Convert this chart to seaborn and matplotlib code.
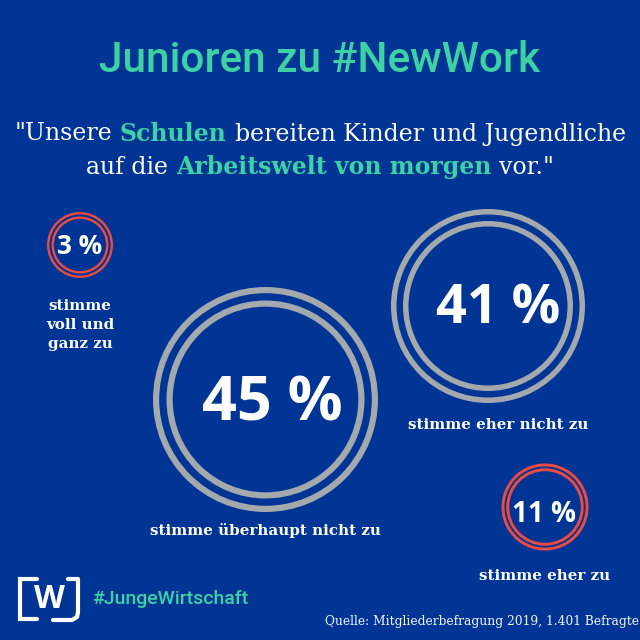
import matplotlib
matplotlib.use("Agg")
import matplotlib.pyplot as plt
import seaborn as sns
import pandas as pd

# Werte aus der Grafik
antworten = ["stimme\nvoll und\nganz zu", "stimme eher nicht zu", "stimme überhaupt nicht zu", "stimme eher zu"]
prozent = [3, 41, 45, 11]
titel = "Junioren zu #NewWork"
quelle = "Quelle: Mitgliederbefragung 2019, 1.401 Befragte"
hashtag = "#JungeWirtschaft"

# Layout in Pixeln
pos_x = [80, 488, 265.5, 545]
pos_y = [245, 306, 399.5, 507]
radius = [33, 97, 112.5, 43.5]
ring_lw = [2.4, 5.5, 6.2, 2.9]
ring_gap = [4.5, 12, 13.5, 4.8]
ring_farbe = ["#EE4A3F", "#A3A9AD", "#A3A9AD", "#EE4A3F"]
font_groesse = [18.8, 39, 44, 20]
text_x = [80, 498.5, 272.5, 544.5]
text_y = [247, 310, 405, 514]
label_x = [80, 498.5, 265.5, 544.5]
label_y = [325, 425, 530, 576]

BLAU = "#003595"
GRUEN = "#3DD1A3"
SERIF = "DejaVu Serif"
SANS = "Open Sans"
PX = 0.72  # Pixel nach Punkt bei dpi=100

sns.set_theme(style="white")
df = pd.DataFrame({"antwort": antworten, "prozent": prozent, "x": pos_x, "y": pos_y, "r": radius})

fig = plt.figure(figsize=(6.4, 6.4), dpi=100, facecolor=BLAU)
ax = fig.add_axes([0, 0, 1, 1], facecolor=BLAU)

# doppelte Ringe
for i, row in df.iterrows():
    for r in [row["r"] - ring_lw[i] / 2, row["r"] - ring_gap[i] - ring_lw[i] / 2]:
        d = 2 * r * PX
        sns.scatterplot(x=[row["x"]], y=[row["y"]], s=d ** 2, ax=ax, facecolor="none",
                        edgecolor=ring_farbe[i], linewidth=ring_lw[i] * PX, legend=False, clip_on=False)
    ax.text(text_x[i], text_y[i], f'{row["prozent"]} %', color="white", fontsize=font_groesse[i],
            fontweight="bold", family=SANS, ha="center", va="center")
    ax.text(label_x[i], label_y[i], row["antwort"], color="white", fontsize=10.9, fontweight="bold",
            family=SERIF, ha="center", va="center", linespacing=1.45)

ax.set_xlim(0, 640)
ax.set_ylim(640, 0)
ax.axis("off")

ax.text(320, 61, titel, color=GRUEN, fontsize=30.5, fontweight="medium", family="Roboto",
        ha="center", va="center")


def bunte_zeile(teile, y, fs=17, luecke=8):
    # Zeile aus Stuecken zusammensetzen, dann mittig ausrichten
    renderer = fig.canvas.get_renderer()
    texte = []
    breite = 0
    for s, farbe, gewicht in teile:
        t = ax.text(0, y, s, color=farbe, fontsize=fs, fontweight=gewicht, family=SERIF, va="center", ha="left")
        w = t.get_window_extent(renderer).width
        texte.append((t, w))
        breite += w + luecke
    breite -= luecke
    x = 320 - breite / 2
    for t, w in texte:
        t.set_x(x)
        x += w + luecke


bunte_zeile([('"Unsere', "white", "normal"), ("Schulen", GRUEN, "bold"),
             ("bereiten Kinder und Jugendliche", "white", "normal")], 134)
bunte_zeile([("auf die", "white", "normal"), ("Arbeitswelt von morgen", GRUEN, "bold"),
             ('vor."', "white", "normal")], 167)

# Logo
ax.plot([37, 20, 20, 37], [579, 579, 618.5, 618.5], color="white", lw=3, solid_joinstyle="miter")
ax.plot([68, 78, 78, 77, 72, 53], [579, 579, 612, 617, 620, 620], color="white", lw=3, solid_joinstyle="round")
ax.text(49, 600, "W", color="white", fontsize=23, fontweight="bold", family=SANS, ha="center", va="center")
ax.text(92, 599, hashtag, color=GRUEN, fontsize=14, fontweight="medium", family="Roboto", ha="left", va="center")
ax.text(639, 621, quelle, color="white", fontsize=8.85, family=SERIF, ha="right", va="center", alpha=0.95)

fig.savefig("out.png", dpi=100, facecolor=BLAU)
plt.close(fig)
